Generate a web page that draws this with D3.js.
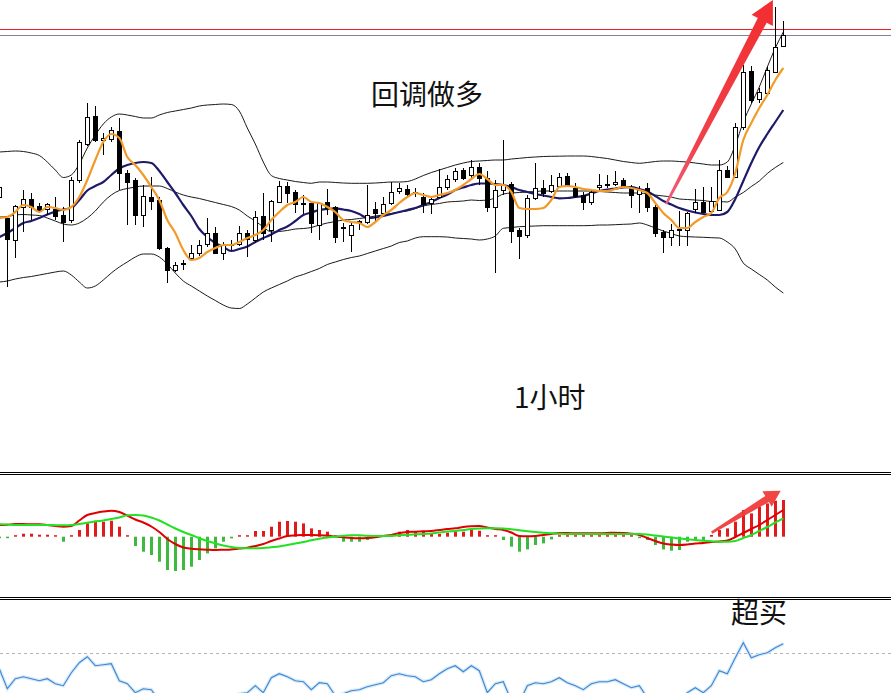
<!DOCTYPE html>
<html><head><meta charset="utf-8">
<script src="https://cdn.jsdelivr.net/npm/d3@7"></script>
<style>html,body{margin:0;padding:0;background:#fff;}svg{display:block;}</style>
</head><body>
<svg id="c" width="891" height="693"></svg>
<script>
// ---- candles (price units), first one is the partial bar at the left edge ----
const open = [
1903,1882,1860,1893,1901,1894,1891,1891,1885,1880,
1920,1956,1984,1960,1961,1969,1927,1920,1885,1903,
1900,1852,1830,1836,1842,1847,1856,1867,1847,1855,
1856,1867,1860,1884,1870,1898,1914,1908,1897,1897,
1875,1898,1893,1872,1865,1878,1878,1891,1887,1897,
1909,1911,1907,1903,1897,1903,1913,1921,1930,1925,
1933,1922,1893,1910,1916,1870,1865,1902,1912,1909,
1914,1924,1912,1905,1898,1913,1915,1916,1920,1912,
1906,1912,1893,1868,1863,1870,1870,1891,1898,1889,
1890,1930,1923,1973,2029,2001,2007,2028,2054];
const high = [
1916,1884,1895,1910,1907,1897,1897,1903,1893,1923,
1960,1997,1994,1967,1973,1982,1930,1922,1915,1923,
1903,1853,1838,1840,1855,1860,1882,1873,1858,1860,
1874,1870,1889,1907,1900,1919,1918,1910,1905,1898,
1898,1911,1894,1877,1877,1880,1915,1898,1903,1918,
1917,1915,1912,1907,1903,1931,1925,1932,1932,1940,
1937,1929,1920,1960,1918,1872,1905,1937,1920,1925,
1927,1927,1917,1908,1910,1926,1925,1929,1922,1915,
1914,1917,1895,1870,1876,1889,1888,1911,1913,1913,
1940,1934,1977,2035,2034,2012,2033,2093,2079];
const low = [
1902,1813,1842,1868,1880,1887,1885,1880,1858,1877,
1917,1954,1958,1945,1958,1910,1875,1875,1873,1890,
1850,1817,1828,1830,1840,1844,1853,1846,1840,1850,
1854,1843,1857,1860,1858,1897,1897,1887,1886,1867,
1860,1885,1857,1858,1848,1870,1876,1878,1884,1895,
1906,1904,1903,1887,1886,1902,1910,1918,1920,1922,
1915,1888,1827,1905,1857,1841,1862,1900,1903,1907,
1912,1913,1902,1890,1895,1910,1912,1914,1912,1892,
1887,1888,1863,1847,1854,1854,1854,1887,1887,1887,
1889,1922,1922,1970,1997,1997,2006,2028,2053];
const close = [
1913,1861,1894,1901,1893,1890,1896,1884,1878,1920,
1958,1983,1960,1962,1970,1927,1918,1885,1904,1899,
1852,1830,1835,1837,1847,1855,1867,1847,1855,1856,
1867,1861,1883,1867,1899,1914,1907,1896,1896,1877,
1897,1892,1863,1873,1875,1879,1885,1887,1896,1908,
1912,1906,1908,1896,1901,1913,1921,1929,1922,1933,
1922,1893,1910,1915,1869,1864,1902,1912,1907,1915,
1923,1915,1904,1898,1908,1915,1916,1918,1914,1905,
1910,1893,1867,1863,1870,1871,1887,1898,1888,1899,
1930,1923,1973,2028,2000,2008,2030,2053,2065];

// ---- moving averages / bands ----
const maFast = [
1882,1883,1888,1895,1893,1888,1893,1892,1890,1893,
1903,1920,1940,1958,1966,1962,1943,1935,1925,1913,
1900,1880,1867,1850,1840,1842,1848,1852,1855,1855,
1858,1862,1865,1870,1880,1888,1895,1898,1903,1898,
1897,1893,1888,1880,1878,1877,1873,1878,1885,1890,
1897,1903,1907,1905,1903,1905,1907,1910,1915,1921,
1926,1921,1915,1915,1908,1892,1891,1891,1892,1900,
1913,1914,1913,1911,1910,1909,1909,1911,1913,1912,
1910,1907,1897,1887,1880,1872,1872,1878,1883,1887,
1902,1908,1927,1960,1977,1992,2005,2020,2032];
const maSlow = [
1863,1867,1872,1877,1879,1882,1885.5,1888.5,1890.5,1892,
1900,1909.5,1914,1918,1925,1931.5,1935,1937,1938,1937,
1929,1918,1907,1895,1884,1871,1863,1857,1853,1849,
1851,1853.5,1858,1862,1865.5,1870,1873.5,1879,1885,1887.5,
1890,1891,1891.7,1890.5,1889,1886,1882,1882.5,1884,1886,
1888,1890,1892,1895,1898,1902,1905.5,1910,1912.5,1915,
1916.5,1916.5,1916,1915,1913,1910,1908,1906,1904.5,1903,
1901.7,1902,1903,1904,1906.5,1909,1910.5,1911.5,1912.5,1913,
1911,1908.5,1904,1899,1895.5,1892,1889.5,1887.5,1886,1885,
1885,1888,1901,1919,1937,1953,1966,1978,1990];
const bandUpper = [
1948,1948.5,1949,1948.5,1947,1944.5,1938,1930,1922.5,1925,
1936,1952,1965,1976,1983,1986,1985,1983.5,1982,1982,
1985,1987.5,1989,1990.5,1992,1994,1995,1995.5,1996,1995.5,
1989,1972,1956,1938,1924.5,1921.5,1920,1918.5,1917.5,1916.7,
1918,1918,1917.5,1917,1916.7,1916.7,1916.7,1917,1917.5,1918,
1918,1918.5,1921,1924.5,1927.5,1930,1932.5,1935,1937,1938.5,
1939,1939.5,1940,1940,1941,1941.7,1942.5,1943,1943.5,1943.7,
1943.8,1944,1944,1944,1943.5,1942.5,1941.5,1940,1938.5,1937.5,
1936.7,1937.5,1938.5,1939,1939,1938.5,1938,1937,1936,1935,
1935,1938,1955,1978,1996,2013,2033,2052,2068];
const bandMiddle = [
1883,1883.5,1885,1885.5,1885,1884.5,1882,1879,1876,1875,
1877,1882,1889,1898,1905,1909.5,1911.5,1913,1914,1914,
1914,1911.5,1908,1905,1903,1901.5,1899.5,1897.5,1895.5,1893.5,
1890,1884,1879,1873,1868,1868.5,1869.5,1871,1871.5,1872.5,
1875,1877,1878.5,1880,1880.5,1881.5,1882.5,1884,1885,1886.5,
1888,1889,1891.5,1894,1895.5,1896.5,1898,1898.5,1899,1900,
1899.5,1900,1902,1906,1907,1907.5,1908,1908.5,1909,1909,
1909,1909,1909,1909,1909,1908.5,1908,1907.5,1907,1907,
1907,1906,1905,1904,1903,1901,1900.5,1900,1899.5,1898.5,
1898.5,1898,1903,1907.5,1913.5,1919,1926.5,1932.5,1937.5];
const bandLower = [
1818,1819,1821,1822.5,1823.5,1825,1826.5,1828,1829,1825,
1818,1812,1814,1820,1827,1833,1838,1843,1846,1846,
1843,1836,1827,1819,1814,1809,1804,1799.5,1795,1792,
1791.5,1796,1802,1808,1812,1815.5,1819,1823,1825.5,1828.5,
1831.5,1835.5,1838,1840.5,1842.5,1844,1846.5,1849,1851.5,1854,
1857.5,1859,1862,1863.3,1863.3,1863.3,1863,1862,1861.5,1861,
1860,1861,1864,1871.7,1872.5,1873.3,1873.7,1874,1874.3,1874.3,
1874.3,1874.3,1874.3,1874.3,1874.5,1875,1875,1875.3,1875.7,1876,
1877,1875,1872,1869,1866.5,1864,1863.3,1863,1862.7,1862.3,
1862,1858,1851,1837,1831,1825.5,1820,1813,1807];
const levelRed = 2071, levelGrey = 2065;

// ---- MACD ----
const macdHist = [
-0.1,-0.1,0.1,0.3,0.3,0.2,0.2,0.1,-0.5,0.1,
0.67,1.33,1.6,1.5,1.6,1.0,0.1,-0.93,-1.5,-1.83,
-2.5,-3.33,-3.43,-3.33,-3.0,-2.33,-1.67,-1.17,-0.5,-0.17,
0.05,0.1,0.57,0.57,1.0,1.5,1.57,1.5,1.33,0.83,
0.67,0.5,0.1,-0.5,-0.5,-0.5,-0.33,0.05,0.1,0.17,
0.5,0.67,0.5,0.5,0.27,0.27,0.4,0.5,0.5,0.67,
0.6,0.1,0.05,-0.33,-1.0,-1.5,-1.27,-0.83,-0.67,-0.27,
0.1,0.1,0.1,0.1,0.1,0.1,0.1,0.1,0.1,0.1,
-0.1,-0.33,-0.83,-1.27,-1.4,-1.33,-0.5,-0.33,-0.33,0.17,
0.67,0.83,1.5,2.67,2.33,3.0,3.33,3.6,3.67];
const macdMain = [
1.17,1.2,1.27,1.27,1.24,1.24,1.17,1.07,1.0,1.07,
1.62,2.17,2.37,2.52,2.6,2.47,2.12,1.72,1.42,1.02,
0.47,-0.23,-0.73,-1.08,-1.2,-1.26,-1.3,-1.33,-1.31,-1.28,
-1.18,-1.1,-0.93,-0.73,-0.43,-0.18,0.07,0.14,0.17,0.17,
0.15,0.11,0.02,-0.06,-0.13,-0.16,-0.13,-0.06,0.07,0.17,
0.37,0.47,0.5,0.54,0.57,0.67,0.77,0.84,0.97,1.04,
1.07,0.92,0.77,0.67,0.42,0.07,0.04,0.07,0.17,0.27,
0.37,0.37,0.34,0.34,0.34,0.35,0.37,0.4,0.37,0.3,
0.17,-0.13,-0.43,-0.68,-0.78,-0.83,-0.78,-0.68,-0.63,-0.53,
-0.48,-0.38,-0.03,0.37,0.77,1.17,1.67,2.17,2.67];
const macdSignal = [
1.24,1.22,1.17,1.17,1.17,1.17,1.17,1.15,1.14,1.17,
1.27,1.39,1.52,1.62,1.77,1.92,2.14,2.17,2.12,1.92,
1.62,1.22,0.82,0.47,0.17,-0.15,-0.43,-0.66,-0.88,-1.03,
-1.13,-1.16,-1.16,-1.13,-1.06,-0.98,-0.83,-0.68,-0.53,-0.36,
-0.21,-0.08,0.02,0.09,0.15,0.14,0.09,0.07,0.07,0.09,
0.14,0.19,0.24,0.27,0.32,0.42,0.52,0.57,0.67,0.77,
0.82,0.84,0.84,0.82,0.74,0.64,0.55,0.47,0.4,0.34,
0.3,0.27,0.27,0.27,0.27,0.27,0.27,0.27,0.27,0.27,
0.27,0.22,0.12,0.02,-0.08,-0.18,-0.26,-0.33,-0.4,-0.46,
-0.5,-0.5,-0.43,-0.13,0.17,0.57,0.97,1.42,1.84];

// ---- RSI ----
const rsi = [
62,52,57,58,57,56,57,54.5,53.5,60,
65,68,63.5,64,64.5,56,54.5,50,52,51.5,
46,40,38.5,40,42,43.5,46,43,45,47,
49.5,50,53.5,50,57.5,59.5,58,56,55.5,51.5,
55,54.5,48.5,49.5,51,51.5,53,54,55,58.5,
59.5,58.5,58,55.5,56.5,59.5,62,63.5,60.5,63.5,
61,50,54.5,55.5,46,45,53.5,55,54.5,55.5,
57.5,55,53.5,51.5,54.5,55.5,55.5,56.5,54.5,52.5,
53.5,47.5,42,40,42,46,50,52.5,50,53.5,
61,59.5,67.5,75,67.5,69,70,72.5,74.5];
const rsiLevel = 70;

// ---- annotations (bar index, value) ----
const arrowMain = {from:[83.35,1896], to:[96.7,2100]};
const arrowMacd = {from:[89.05,0.4], to:[97.68,4.6]};
const labels = [
  {text:"回调做多", x:371, y:105},
  {text:"1小时", x:514, y:408},
  {text:"超买", x:731, y:623}
];

// ================= drawing =================
const svg = d3.select("#c");
const N = open.length;
const x = d3.scaleLinear().domain([0, 98]).range([-0.7, 783.3]);
const yP = d3.scaleLinear().domain([1630, 2100]).range([470, 0]);
const yM = d3.scaleLinear().domain([-6, 6]).range([596.7, 476.7]);
const yR = d3.scaleLinear().domain([0, 100]).range([792.7, 592.7]);
const idx = d3.range(N);

const defs = svg.append("defs");
defs.append("clipPath").attr("id","cpMain").append("rect").attr("x",0).attr("y",0).attr("width",891).attr("height",471);
defs.append("clipPath").attr("id","cpMacd").append("rect").attr("x",0).attr("y",476).attr("width",891).attr("height",120);
defs.append("clipPath").attr("id","cpRsi").append("rect").attr("x",0).attr("y",601).attr("width",891).attr("height",92);

svg.append("rect").attr("width",891).attr("height",693).attr("fill","#fff");

// main panel
const gMain = svg.append("g").attr("clip-path","url(#cpMain)");
gMain.append("line").attr("x1",0).attr("x2",891).attr("y1",Math.round(yP(levelRed))+0.5).attr("y2",Math.round(yP(levelRed))+0.5)
  .attr("stroke","#e8202a").attr("stroke-width",1.2);
gMain.append("line").attr("x1",0).attr("x2",891).attr("y1",Math.round(yP(levelGrey))+0.5).attr("y2",Math.round(yP(levelGrey))+0.5)
  .attr("stroke","#8080a0").attr("stroke-width",1);

const lineP = arr => d3.line().x((d,i)=>x(i)).y(d=>yP(d)).curve(d3.curveMonotoneX)(arr);
[bandUpper, bandMiddle, bandLower].forEach(a=>{
  gMain.append("path").attr("d", lineP(a)).attr("fill","none").attr("stroke","#000").attr("stroke-width",0.9);
});
gMain.append("path").attr("d", lineP(maSlow)).attr("fill","none").attr("stroke","#1e1a6a").attr("stroke-width",2.2);

// candles
const gC = gMain.append("g");
idx.forEach(i=>{
  const cx = Math.round(x(i));
  const up = close[i] >= open[i];
  gC.append("line").attr("x1",cx+0.5).attr("x2",cx+0.5)
    .attr("y1",Math.round(yP(high[i]))).attr("y2",Math.round(yP(low[i])))
    .attr("stroke","#000").attr("stroke-width",1);
  let top = Math.round(yP(Math.max(open[i],close[i])));
  let bot = Math.round(yP(Math.min(open[i],close[i])));
  if (bot - top < 1) bot = top + 1;
  gC.append("rect").attr("x",cx-1.5).attr("y",top+0.5).attr("width",4).attr("height",bot-top)
    .attr("fill", up ? "#fff" : "#000").attr("stroke","#000").attr("stroke-width",1);
});

gMain.append("path").attr("d", lineP(maFast)).attr("fill","none").attr("stroke","#f39a26").attr("stroke-width",2.2);

// arrow helper
function arrowPath(p0, p1, wt, wn, hw, hl){
  const dx=p1[0]-p0[0], dy=p1[1]-p0[1], L=Math.hypot(dx,dy);
  const ux=dx/L, uy=dy/L, nx=-uy, ny=ux;
  const bx=p1[0]-ux*hl, by=p1[1]-uy*hl;
  const pts=[
    [p0[0]+nx*wt/2, p0[1]+ny*wt/2],
    [bx+nx*wn/2, by+ny*wn/2],
    [bx+nx*hw, by+ny*hw],
    [p1[0],p1[1]],
    [bx-nx*hw, by-ny*hw],
    [bx-nx*wn/2, by-ny*wn/2],
    [p0[0]-nx*wt/2, p0[1]-ny*wt/2]];
  return "M"+pts.map(p=>p[0].toFixed(1)+","+p[1].toFixed(1)).join("L")+"Z";
}
const a0=[x(arrowMain.from[0]), yP(arrowMain.from[1])], a1=[x(arrowMain.to[0]), yP(arrowMain.to[1])];
const gr = defs.append("linearGradient").attr("id","gArrow").attr("gradientUnits","userSpaceOnUse")
  .attr("x1",a0[0]).attr("y1",a0[1]).attr("x2",a1[0]).attr("y2",a1[1]);
gr.append("stop").attr("offset","0").attr("stop-color","#f0607a");
gr.append("stop").attr("offset","0.3").attr("stop-color","#f0404a");
gr.append("stop").attr("offset","1").attr("stop-color","#f22e30");
svg.append("path").attr("d", arrowPath(a0,a1,2.5,10,12,23)).attr("fill","url(#gArrow)");

// separators
[472.5,474.5,597.5,599.5].forEach(yy=>{
  svg.append("line").attr("x1",0).attr("x2",891).attr("y1",yy).attr("y2",yy).attr("stroke","#000").attr("stroke-width",1);
});

// MACD panel
const gM = svg.append("g").attr("clip-path","url(#cpMacd)");
const z = yM(0);
idx.forEach(i=>{
  const v = macdHist[i];
  const cx = Math.round(x(i));
  const yv = yM(v);
  const h = Math.max(1.5, Math.abs(yv - z));
  gM.append("rect").attr("x",cx-1).attr("y", v>=0 ? z-h : z).attr("width",3).attr("height",h)
    .attr("fill", v>=0 ? "#e21a1a" : "#3dba3d");
});
const lineM = arr => d3.line().x((d,i)=>x(i)).y(d=>yM(d)).curve(d3.curveMonotoneX)(arr);
gM.append("path").attr("d", lineM(macdMain)).attr("fill","none").attr("stroke","#e00000").attr("stroke-width",2);
gM.append("path").attr("d", lineM(macdSignal)).attr("fill","none").attr("stroke","#22e022").attr("stroke-width",2);
const m0=[x(arrowMacd.from[0]), yM(arrowMacd.from[1])], m1=[x(arrowMacd.to[0]), yM(arrowMacd.to[1])];
gM.append("path").attr("d", arrowPath(m0,m1,2.5,7,9,16)).attr("fill","#f03c3c").attr("opacity",0.95);

// RSI panel
const gR = svg.append("g").attr("clip-path","url(#cpRsi)");
gR.append("line").attr("x1",0).attr("x2",891).attr("y1",Math.round(yR(rsiLevel))+0.5).attr("y2",Math.round(yR(rsiLevel))+0.5)
  .attr("stroke","#b4b4b4").attr("stroke-width",1).attr("stroke-dasharray","3,3");
const lineR = d3.line().x((d,i)=>x(i)).y(d=>yR(d));
gR.append("path").attr("d", lineR(rsi)).attr("fill","none").attr("stroke","#d6eafa").attr("stroke-width",3.5);
gR.append("path").attr("d", lineR(rsi)).attr("fill","none").attr("stroke","#3f86d0").attr("stroke-width",1.1);

// labels
svg.selectAll("text.lbl").data(labels).enter().append("text").attr("class","lbl")
  .attr("x",d=>d.x).attr("y",d=>d.y).text(d=>d.text)
  .attr("font-family","'Noto Sans CJK SC','Noto Sans',sans-serif").attr("font-size",28).attr("fill","#111");
</script>
</body></html>
